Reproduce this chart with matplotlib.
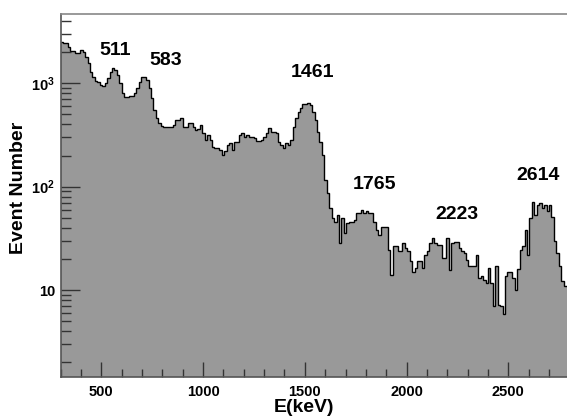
import matplotlib

matplotlib.use("Agg")

import matplotlib.pyplot as plt
import numpy as np
from matplotlib.ticker import FixedFormatter, FixedLocator, LogLocator, MultipleLocator

plt.rcParams["font.family"] = ["Liberation Sans", "DejaVu Sans"]
plt.rcParams["font.weight"] = "bold"
plt.rcParams["mathtext.fontset"] = "custom"
plt.rcParams["mathtext.rm"] = "Liberation Sans:bold"
plt.rcParams["mathtext.bf"] = "Liberation Sans:bold"

E_MIN = 300  # keV, low edge of the first bin
BIN_WIDTH = 12  # keV

# event counts per 12 keV bin, starting at 300 keV
counts = [
    2520, 2430, 2430, 2250, 2050, 2050, 1960, 1960, 2100, 2020,
    1810, 1560, 1300, 1150, 1050, 1030, 963, 940, 1000, 1120,
    1300, 1396, 1350, 1200, 1000, 800, 742, 742, 755, 750,
    800, 895, 1040, 1143, 1143, 1077, 895, 716, 552, 459,
    410, 390, 381, 381, 381, 381, 395, 441, 441, 459,
    381, 381, 410, 410, 381, 354, 360, 395, 329, 283,
    316, 283, 244, 236, 236, 227, 203, 222, 254, 263,
    227, 273, 273, 316, 329, 305, 316, 305, 305, 295,
    279, 279, 283, 305, 333, 367, 340, 340, 329, 273,
    254, 236, 263, 254, 283, 381, 459, 532, 573, 631,
    631, 650, 617, 532, 441, 340, 273, 203, 116, 86.5,
    62, 49.6, 46, 53, 28.5, 49.6, 35.6, 44.4, 46, 46,
    47.7, 55.6, 56, 59.7, 55.6, 57.5, 55.6, 55.6, 46, 38.3,
    34.2, 41.1, 41.1, 41.1, 24.5, 14.1, 26.8, 26.8, 23.6, 23.6,
    28.5, 25.5, 23.6, 18.9, 15.1, 16.3, 18.9, 18.9, 16.3, 21.9,
    23.6, 28.5, 31.8, 28.5, 27.4, 27.4, 20.4, 20.4, 31.8, 15.7,
    28.5, 29, 29, 25.5, 23.6, 22.7, 19.6, 16.9, 16.9, 16.9,
    21.9, 13.1, 13.8, 12.5, 11.8, 16.3, 11.7, 6.95, 16.9, 7.2,
    6.95, 5.9, 13.7, 14.8, 14.8, 13.1, 10, 16, 24.5, 26.4,
    38.3, 22, 49.6, 71.8, 53, 66, 70, 62, 66, 57.5,
    66, 51, 29.5, 22.7, 16.9, 12.2, 11, 11, 11,
]

peak_labels = ["511", "583", "1461", "1765", "2223", "2614"]
peak_label_x = [567, 818, 1539, 1841, 2248, 2648]
peak_label_y = [2075, 1660, 1258, 104.5, 53.6, 127.6]

x_ticks = [500, 1000, 1500, 2000, 2500]
y_ticks = [10, 100, 1000]
y_tick_labels = ["10", r"$\mathbf{10^{2}}$", r"$\mathbf{10^{3}}$"]


def plot_spectrum():
    fig = plt.figure(figsize=(5.67, 4.16), dpi=100)
    ax = fig.add_axes([0.107, 0.0945, 0.9, 0.8718])

    edges = E_MIN + BIN_WIDTH * np.arange(len(counts) + 1)
    ax.stairs(counts, edges, baseline=1e-3, fill=True, color="#999999", lw=0)
    ax.stairs(counts, edges, baseline=None, color="black", lw=1.0)

    ax.set_yscale("log")
    ax.set_xlim(edges[0], edges[-1])
    ax.set_ylim(1.45, 4680)

    ax.xaxis.set_major_locator(FixedLocator(x_ticks))
    ax.xaxis.set_minor_locator(MultipleLocator(100))
    ax.yaxis.set_major_locator(FixedLocator(y_ticks))
    ax.yaxis.set_major_formatter(FixedFormatter(y_tick_labels))
    ax.yaxis.set_minor_locator(LogLocator(base=10, subs=np.arange(2, 10)))
    ax.yaxis.set_minor_formatter(FixedFormatter([]))

    ax.tick_params(axis="both", which="both", direction="in", colors="#333333",
                   labelcolor="black", labelsize=10.5, top=False, right=False)
    ax.tick_params(axis="x", which="major", length=11, width=1, pad=6)
    ax.tick_params(axis="x", which="minor", length=5.5, width=1)
    ax.tick_params(axis="y", which="major", length=14, width=1, pad=4)
    ax.tick_params(axis="y", which="minor", length=7, width=1)

    for side in ("left", "bottom"):
        ax.spines[side].set_color("#555555")
        ax.spines[side].set_linewidth(1.2)
    ax.spines["top"].set_color("#888888")
    ax.spines["top"].set_linewidth(1.2)
    ax.spines["right"].set_visible(False)

    for label, x, y in zip(peak_labels, peak_label_x, peak_label_y):
        ax.text(x, y, label, ha="center", va="center", fontsize=14,
                fontweight="bold")

    fig.text(304 / 567, 1 - 407.5 / 416, "E(keV)", ha="center", va="center",
             fontsize=14, fontweight="bold")
    fig.text(18.5 / 567, 1 - 187.5 / 416, "Event Number", ha="center",
             va="center", rotation=90, fontsize=14, fontweight="bold")

    fig.savefig("out.png", dpi=100)


def main():
    plot_spectrum()


if __name__ == "__main__":
    main()
